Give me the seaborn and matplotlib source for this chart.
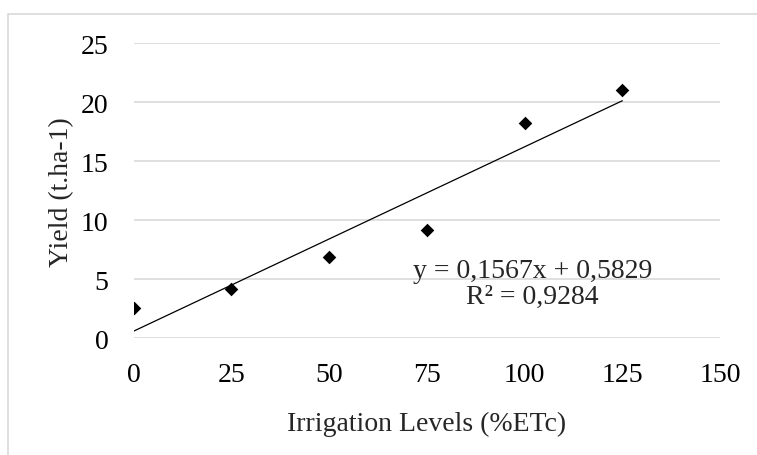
import matplotlib
matplotlib.use("Agg")
import matplotlib.pyplot as plt
import seaborn as sns
import pandas as pd
from matplotlib.patches import Rectangle

irrigation = [0, 25, 50, 75, 100, 125]
yield_t = [2.6, 4.2, 6.9, 9.2, 18.2, 21.05]
x_ticks = [0, 25, 50, 75, 100, 125, 150]
y_ticks = [0, 5, 10, 15, 20, 25]
equation = "y = 0,1567x + 0,5829\nR² = 0,9284"

df = pd.DataFrame({"Irrigation": irrigation, "Yield": yield_t})

sns.set_style("white")
plt.rcParams['font.family'] = ['Liberation Serif', 'DejaVu Serif']

fig = plt.figure(figsize=(7.57, 4.56), dpi=100)
# chart area border, cut off at right and bottom like the source
fig.patches.append(Rectangle((8 / 757, -0.1), 1.2, 1 - 15 / 456 + 0.1,
                             transform=fig.transFigure, fill=False,
                             edgecolor='#d9d9d9', linewidth=1.2))
ax = fig.add_axes([0.1765, 0.2559, 0.7747, 0.6476])

sns.regplot(data=df, x="Irrigation", y="Yield", ax=ax, ci=None, scatter=False,
            truncate=True, line_kws={'color': 'black', 'linewidth': 0.9})
sns.scatterplot(data=df, x="Irrigation", y="Yield", ax=ax, marker='D',
                s=48, color='black', linewidth=0, zorder=3)

ax.set_xlim(0, 150)
ax.set_ylim(0, 25)
ax.set_xticks(x_ticks)
ax.set_yticks(y_ticks)
ax.yaxis.grid(True, color='#d9d9d9', linewidth=1.2)
ax.set_axisbelow(True)
for s in ax.spines.values():
    s.set_visible(False)
ax.tick_params(axis='both', length=0, labelsize=20, colors='black')
ax.tick_params(axis='y', pad=18)
ax.tick_params(axis='x', pad=17)
ax.set_xlabel("Irrigation Levels (%ETc)", fontsize=20, labelpad=17)
ax.set_ylabel("Yield (t.ha-1)", fontsize=20, labelpad=5)

ax.text(102, 4.65, equation, fontsize=20, ha='center', va='center',
        linespacing=1.05)

fig.savefig("out.png", dpi=100)
